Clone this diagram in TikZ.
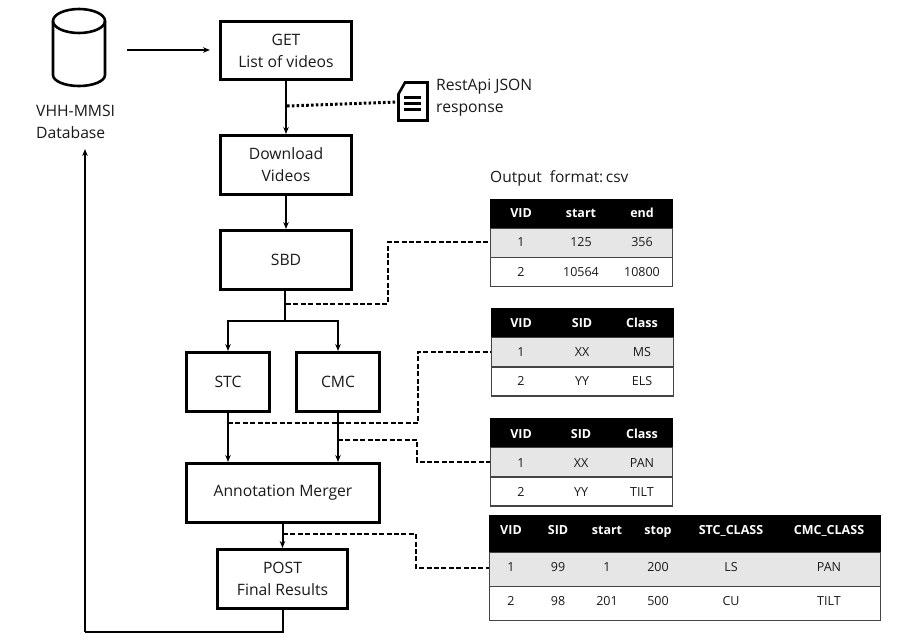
\documentclass[tikz,border=0pt]{standalone}
\usepackage{fontspec}
\setmainfont{Open Sans}
\usetikzlibrary{arrows.meta}
\definecolor{rowgray}{HTML}{E6E6E6}
\definecolor{ruleg}{HTML}{444444}
\definecolor{inkc}{HTML}{1A1A1A}
\newcommand{\cellt}[4]{\node[celltxt] (#1) at (#2,#3) {#4};}
\newcommand{\cellh}[4]{\node[headtxt] (#1) at (#2,#3) {#4};}
\tikzset{
  boxn/.style={draw=black,line width=3pt,fill=white,align=center,inner sep=0pt,text=inkc,
    font=\fontsize{15.7}{22}\selectfont},
  arrowc/.style={line width=2pt,-{Stealth[length=7pt,width=5.5pt]}},
  plainc/.style={line width=2pt},
  dashc/.style={line width=2pt,dash pattern=on 5pt off 2.4pt},
  dotc/.style={line width=3pt,dash pattern=on 2.6pt off 2.2pt},
  celltxt/.style={inner sep=0pt,text=inkc,text height=9.5pt,text depth=2.5pt,font=\fontsize{12.5}{14}\selectfont},
  headtxt/.style={inner sep=0pt,text=white,text height=9.5pt,text depth=2.5pt,font=\fontsize{12.5}{14}\selectfont\bfseries},
  labeltxt/.style={inner sep=0pt,anchor=west,text=inkc,font=\fontsize{15.7}{22}\selectfont},
  thead/.style={draw=none,fill=black,inner sep=0pt},
  trow/.style={draw=ruleg,line width=1.2pt,inner sep=0pt},
}
\begin{document}
\begin{tikzpicture}[x=1pt,y=-1pt]
\useasboundingbox (0,0) rectangle (907,643);
% database
\draw[line width=2.6pt] (79,21) ellipse[x radius=26,y radius=12];
\draw[line width=2.6pt] (53,21) -- (53,75) arc[start angle=180,end angle=0,x radius=26,y radius=11] -- (105,21);
\node[labeltxt,align=left] (dbl) at (36,122) {VHH-MMSI\\Database};
\coordinate (dbout) at (127,50);
\coordinate (dbin) at (85,149);
% boxes
\node[boxn,minimum width=131pt,minimum height=58pt] (get) at (286,50.5) {GET\\List of videos};
\node[boxn,minimum width=131pt,minimum height=59pt] (dl) at (286,165) {Download\\Videos};
\node[boxn,minimum width=131pt,minimum height=59pt] (sbd) at (286,260) {SBD};
\node[boxn,minimum width=83pt,minimum height=59pt] (stc) at (228,382) {STC};
\node[boxn,minimum width=83pt,minimum height=59pt] (cmc) at (338,382) {CMC};
\node[boxn,minimum width=193pt,minimum height=59pt] (am) at (283,493) {Annotation Merger};
\node[boxn,minimum width=130pt,minimum height=59pt] (post) at (282.5,579) {POST\\Final Results};
% document icon
\draw[line width=2.6pt,fill=white] (398.5,94) -- (405,82.5) -- (427.5,82.5) -- (427.5,120.5) -- (398.5,120.5) -- cycle;
\coordinate (docin) at (398,102);
\draw[line width=2.6pt] (404,97.5) -- (421,97.5) (404,103.5) -- (421,103.5) (404,109.5) -- (421,109.5);
\node[labeltxt,align=left] (docl) at (436,98) {RestApi JSON\\response};
% solid connectors
\draw[arrowc] (dbout) -- (210,50);
\draw[arrowc] (get.south) -- (dl.north);
\draw[arrowc] (dl.south) -- (sbd.north);
\coordinate (split) at (285,321);
\draw[plainc] (sbd.south -| split) -- (split);
\draw[arrowc] (split) -| (stc.north);
\draw[arrowc] (split) -| (cmc.north);
\draw[arrowc] (stc.south) -- (stc.south |- am.north);
\draw[arrowc] (cmc.south) -- (cmc.south |- am.north);
\draw[arrowc] (post.north |- am.south) -- (post.north);
\coordinate (back) at (85,632);
\draw[plainc] (post.south) -- (post.south |- back) -- (back);
\draw[arrowc] (back) -- (dbin);
% table 1
\node[labeltxt,font=\fontsize{15.5}{16}\selectfont] (t1title) at (490,178.5) {Output\ \ format:\,csv};
\node[thead,minimum width=183pt,minimum height=30pt] (t1h) at (581.5,213.5) {};
\node[trow,fill=rowgray,minimum width=182pt,minimum height=29pt] (t1a) at (581.5,243) {};
\node[trow,fill=white,minimum width=182pt,minimum height=29pt] (t1b) at (581.5,272) {};
\cellh{t1h1}{521}{214}{VID}\cellh{t1h2}{581}{214}{start}\cellh{t1h3}{642}{214}{end}
\cellt{t1a1}{521}{243}{1}\cellt{t1a2}{581}{243}{125}\cellt{t1a3}{642}{243}{356}
\cellt{t1b1}{521}{272.5}{2}\cellt{t1b2}{581}{272.5}{10564}\cellt{t1b3}{642}{272.5}{10800}
% table 2
\node[thead,minimum width=183pt,minimum height=30pt] (t2h) at (582.5,323) {};
\node[trow,fill=rowgray,minimum width=182pt,minimum height=29pt] (t2a) at (582.5,352) {};
\node[trow,fill=white,minimum width=182pt,minimum height=29pt] (t2b) at (582.5,381.5) {};
\cellh{t2h1}{521}{323.5}{VID}\cellh{t2h2}{582}{323.5}{SID}\cellh{t2h3}{642}{323.5}{Class}
\cellt{t2a1}{521}{352.5}{1}\cellt{t2a2}{582}{352.5}{XX}\cellt{t2a3}{642}{352.5}{MS}
\cellt{t2b1}{521}{381.5}{2}\cellt{t2b2}{582}{381.5}{YY}\cellt{t2b3}{642}{381.5}{ELS}
% table 3
\node[thead,minimum width=183pt,minimum height=30pt] (t3h) at (581.5,433) {};
\node[trow,fill=rowgray,minimum width=182pt,minimum height=29pt] (t3a) at (581.5,462) {};
\node[trow,fill=white,minimum width=182pt,minimum height=29pt] (t3b) at (581.5,491.5) {};
\cellh{t3h1}{521}{434.5}{VID}\cellh{t3h2}{581}{434.5}{SID}\cellh{t3h3}{642}{434.5}{Class}
\cellt{t3a1}{521}{463.5}{1}\cellt{t3a2}{581}{463.5}{XX}\cellt{t3a3}{642}{463.5}{PAN}
\cellt{t3b1}{521}{492.5}{2}\cellt{t3b2}{581}{492.5}{YY}\cellt{t3b3}{642}{492.5}{TILT}
% table 4
\node[thead,minimum width=392pt,minimum height=38pt] (t4h) at (685,534) {};
\node[trow,fill=rowgray,minimum width=391pt,minimum height=34pt] (t4a) at (685,569.5) {};
\node[trow,fill=white,minimum width=391pt,minimum height=34pt] (t4b) at (685,603.5) {};
\cellh{t4h1}{511}{530.5}{VID}\cellh{t4h2}{558}{530.5}{SID}\cellh{t4h3}{607}{530.5}{start}\cellh{t4h4}{658}{530.5}{stop}\cellh{t4h5}{731}{530.5}{STC\_CLASS}\cellh{t4h6}{829}{530.5}{CMC\_CLASS}
\cellt{t4a1}{511}{567.5}{1}\cellt{t4a2}{558}{567.5}{99}\cellt{t4a3}{607}{567.5}{1}\cellt{t4a4}{658}{567.5}{200}\cellt{t4a5}{731}{567.5}{LS}\cellt{t4a6}{829}{567.5}{PAN}
\cellt{t4b1}{511}{601.5}{2}\cellt{t4b2}{558}{601.5}{98}\cellt{t4b3}{607}{601.5}{201}\cellt{t4b4}{658}{601.5}{500}\cellt{t4b5}{731}{601.5}{CU}\cellt{t4b6}{829}{601.5}{TILT}
% dotted and dashed connectors
\coordinate (dottap) at (287,106);
\draw[dotc] (dottap) -- (docin);
\coordinate (tapa) at (286,304);
\coordinate (benda) at (388,242);
\draw[dashc] (tapa) -| (benda) -- (benda -| t1a.west);
\coordinate (tapb) at (228,423);
\coordinate (bendb) at (418,352);
\draw[dashc] (tapb) -| (bendb) -- (bendb -| t2a.west);
\coordinate (tapc) at (338,440);
\coordinate (bendc) at (417,462);
\draw[dashc] (tapc) -| (bendc) -- (bendc -| t3a.west);
\coordinate (tapd) at (283,534);
\coordinate (bendd) at (416,568);
\draw[dashc] (tapd) -| (bendd) -- (bendd -| t4a.west);
\end{tikzpicture}
\end{document}
